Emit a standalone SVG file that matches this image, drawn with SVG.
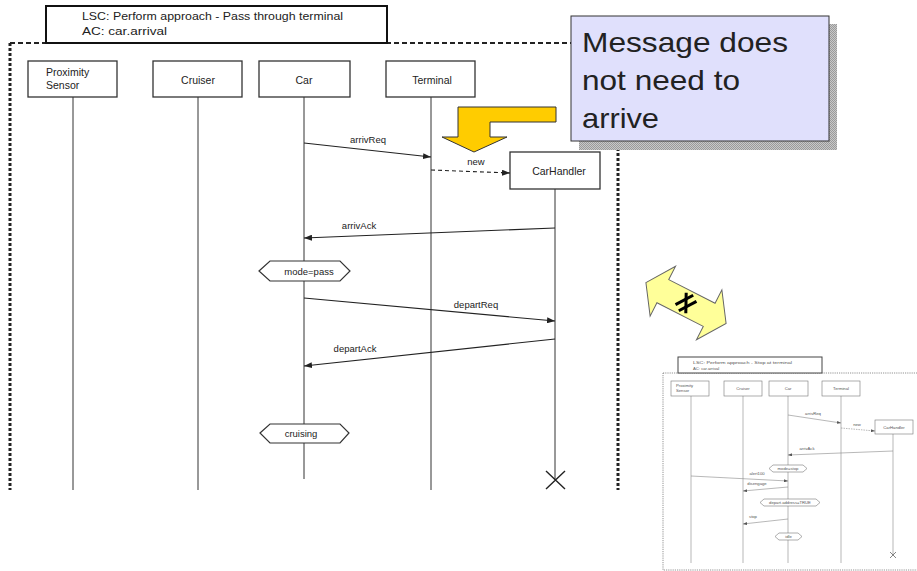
<svg xmlns="http://www.w3.org/2000/svg" width="917" height="571" viewBox="0 0 917 571">
<style>
.t{font-family:"Liberation Sans",Arial,sans-serif;fill:#222}
.lbl{font-size:9.5px}
.box{fill:#fff;stroke:#333;stroke-width:1.3}
.life{stroke:#333;stroke-width:1;fill:none}
.msg{stroke:#222;stroke-width:1.1;fill:none}
.hex{fill:#fff;stroke:#333;stroke-width:1.2}
.tb{fill:#fff;stroke:#777;stroke-width:0.6}
.tl{stroke:#888;stroke-width:0.6;fill:none}
.tt{font-family:"Liberation Sans",Arial,sans-serif;fill:#555;font-size:4.2px}
</style>
<defs>
<marker id="ah" viewBox="0 0 8 6" refX="8" refY="3" markerWidth="8" markerHeight="6" markerUnits="userSpaceOnUse" orient="auto"><path d="M0,0 L8,3 L0,6 z" fill="#222"/></marker>
<marker id="ahs" viewBox="0 0 8 6" refX="8" refY="3" markerWidth="4" markerHeight="3" markerUnits="userSpaceOnUse" orient="auto"><path d="M0,0 L8,3 L0,6 z" fill="#555"/></marker>
<pattern id="shd" width="2" height="2" patternUnits="userSpaceOnUse"><rect width="2" height="2" fill="#c8c8c8"/><rect width="1" height="1" fill="#9a9a9a"/><rect x="1" y="1" width="1" height="1" fill="#9a9a9a"/></pattern>
</defs>
<rect width="917" height="571" fill="#fff"/>

<!-- main LSC frame -->
<g id="frame">
<line x1="10" y1="43" x2="618" y2="43" stroke="#222" stroke-width="2" stroke-dasharray="5,3"/>
<line x1="10" y1="43" x2="10" y2="490" stroke="#222" stroke-width="3" stroke-dasharray="3,2"/>
<line x1="618" y1="43" x2="618" y2="490" stroke="#222" stroke-width="3" stroke-dasharray="3,2"/>
</g>
<g id="title">
<rect x="46" y="6" width="341" height="37" fill="#fff" stroke="#111" stroke-width="2"/>
<text class="t" x="82" y="20" font-size="11" textLength="261" lengthAdjust="spacingAndGlyphs">LSC: Perform approach - Pass through terminal</text>
<text class="t" x="82" y="35" font-size="11" textLength="85" lengthAdjust="spacingAndGlyphs">AC: car.arrival</text>
</g>

<g id="proximity">
<line class="life" x1="73" y1="97" x2="73" y2="490"/>
<rect class="box" x="28" y="61" width="89" height="36"/>
<text class="t" x="46" y="76" font-size="10.5">Proximity</text>
<text class="t" x="46" y="89" font-size="10.5">Sensor</text>
</g>
<g id="cruiser">
<line class="life" x1="198" y1="97" x2="198" y2="490"/>
<rect class="box" x="153" y="61" width="89" height="36"/>
<text class="t" x="198" y="84" font-size="10.5" text-anchor="middle">Cruiser</text>
</g>
<g id="car">
<line class="life" x1="304" y1="97" x2="304" y2="479"/>
<rect class="box" x="259" y="61" width="91" height="36"/>
<text class="t" x="304" y="84" font-size="10.5" text-anchor="middle">Car</text>
</g>
<g id="terminal">
<line class="life" x1="431" y1="97" x2="431" y2="490"/>
<rect class="box" x="386" y="61" width="89" height="36"/>
<text class="t" x="432" y="84" font-size="10.5" text-anchor="middle">Terminal</text>
</g>
<g id="carhandler">
<line class="life" x1="555" y1="189" x2="555" y2="480"/>
<rect class="box" x="510" y="152" width="90" height="37"/>
<text class="t" x="559" y="175" font-size="10.5" text-anchor="middle">CarHandler</text>
<path d="M546,471 L565,489 M565,471 L546,489" stroke="#222" stroke-width="1.4" fill="none"/>
</g>

<g id="connectors">
<line class="msg" x1="304" y1="143" x2="431" y2="157" marker-end="url(#ah)"/>
<text class="t lbl" x="368" y="143" text-anchor="middle">arrivReq</text>
<line class="msg" x1="431" y1="170" x2="510" y2="173" stroke-dasharray="4,3" marker-end="url(#ah)"/>
<text class="t lbl" x="476" y="165" text-anchor="middle">new</text>
<line class="msg" x1="555" y1="228" x2="304" y2="238" marker-end="url(#ah)"/>
<text class="t lbl" x="359" y="229" text-anchor="middle">arrivAck</text>
<line class="msg" x1="304" y1="298" x2="555" y2="321" marker-end="url(#ah)"/>
<text class="t lbl" x="476" y="308" text-anchor="middle">departReq</text>
<line class="msg" x1="555" y1="339" x2="304" y2="366" marker-end="url(#ah)"/>
<text class="t lbl" x="355" y="352" text-anchor="middle">departAck</text>
</g>

<g id="cond-mode">
<polygon class="hex" points="259,271 270,261 340,261 350,271 340,281 270,281"/>
<text class="t lbl" x="309" y="274.5" text-anchor="middle">mode=pass</text>
</g>
<g id="cond-cruising">
<polygon class="hex" points="260,433 270,424 340,424 349,433 340,443 270,443"/>
<text class="t lbl" x="301" y="436.5" text-anchor="middle">cruising</text>
</g>

<!-- callout -->
<g id="callout">
<rect x="579" y="24" width="258" height="126" fill="url(#shd)"/>
<rect x="571" y="16" width="258" height="125" fill="#E0E0FC" stroke="#333" stroke-width="1"/>
<text class="t" x="582" y="52" font-size="28" fill="#000" textLength="206" lengthAdjust="spacingAndGlyphs">Message does</text>
<text class="t" x="582" y="90" font-size="28" fill="#000" textLength="158" lengthAdjust="spacingAndGlyphs">not need to</text>
<text class="t" x="582" y="128" font-size="28" fill="#000" textLength="77" lengthAdjust="spacingAndGlyphs">arrive</text>
</g>
<g id="bent-arrow">
<polygon points="556,107 556,122 490,122 490,137 507,137 474,152 442,137 458,137 458,107" fill="#FFCC00" stroke="#333" stroke-width="1"/>
</g>

<g id="double-arrow" transform="translate(686,303) rotate(27)">
<polygon points="-45,0 -26,-28 -26,-13 26,-13 26,-28 45,0 26,28 26,13 -26,13 -26,28" fill="#FFFF99" stroke="#666" stroke-width="1"/>
<g transform="rotate(-55)" stroke="#000" stroke-width="3" stroke-linecap="butt">
<line x1="-10" y1="-3.5" x2="10" y2="-3.5"/>
<line x1="-10" y1="3.5" x2="10" y2="3.5"/>
<line x1="-5" y1="9" x2="5" y2="-9"/>
</g>
</g>

<!-- thumbnail LSC -->
<g id="thumb">
<rect x="663" y="373" width="260" height="197" fill="#fff" stroke="#777" stroke-width="0.8" stroke-dasharray="1.2,1"/>
<rect x="678" y="357" width="144" height="16" fill="#fff" stroke="#444" stroke-width="1"/>
<text class="tt" x="693" y="363.5" textLength="99" lengthAdjust="spacingAndGlyphs">LSC: Perform approach - Stop at terminal</text>
<text class="tt" x="693" y="369.5">AC: car.arrival</text>
<line class="tl" x1="691" y1="396" x2="691" y2="563"/>
<line class="tl" x1="743" y1="396" x2="743" y2="563"/>
<line class="tl" x1="788" y1="396" x2="788" y2="563"/>
<line class="tl" x1="841" y1="396" x2="841" y2="563"/>
<line class="tl" x1="893" y1="434" x2="893" y2="555"/>
<rect class="tb" x="671" y="381" width="38" height="15"/>
<text class="tt" x="676" y="387">Proximity</text>
<text class="tt" x="676" y="392">Sensor</text>
<rect class="tb" x="724" y="381" width="38" height="15"/>
<text class="tt" x="743" y="390" text-anchor="middle">Cruiser</text>
<rect class="tb" x="769" y="381" width="39" height="15"/>
<text class="tt" x="788" y="390" text-anchor="middle">Car</text>
<rect class="tb" x="822" y="381" width="38" height="15"/>
<text class="tt" x="841" y="390" text-anchor="middle">Terminal</text>
<rect class="tb" x="875" y="420" width="38" height="14"/>
<text class="tt" x="894" y="428.5" text-anchor="middle">CarHandler</text>
<line class="tl" x1="788" y1="415" x2="841" y2="423" marker-end="url(#ahs)"/>
<text class="tt" x="813" y="415" text-anchor="middle">arrivReq</text>
<line class="tl" x1="841" y1="428" x2="875" y2="431" stroke-dasharray="1.5,1" marker-end="url(#ahs)"/>
<text class="tt" x="857" y="426" text-anchor="middle">new</text>
<line class="tl" x1="893" y1="451" x2="788" y2="455" marker-end="url(#ahs)"/>
<text class="tt" x="807" y="450" text-anchor="middle">arrivAck</text>
<polygon class="tb" points="769,468.5 773,465 803,465 807,468.5 803,472 773,472"/>
<text class="tt" x="788" y="470" text-anchor="middle">mode=stop</text>
<line class="tl" x1="691" y1="476" x2="788" y2="481" marker-end="url(#ahs)"/>
<text class="tt" x="757" y="475" text-anchor="middle">alert100</text>
<line class="tl" x1="788" y1="487" x2="743" y2="491" marker-end="url(#ahs)"/>
<text class="tt" x="757" y="485" text-anchor="middle">disengage</text>
<polygon class="tb" points="760,502.5 764,499 816,499 820,502.5 816,506 764,506"/>
<text class="tt" x="790" y="504" text-anchor="middle">depart.address=TRUE</text>
<line class="tl" x1="788" y1="519" x2="743" y2="524" marker-end="url(#ahs)"/>
<text class="tt" x="753" y="518" text-anchor="middle">stop</text>
<polygon class="tb" points="775,536.5 779,533 798,533 802,536.5 798,540 779,540"/>
<text class="tt" x="788.5" y="538" text-anchor="middle">idle</text>
<path d="M890,552 L896,558 M896,552 L890,558" stroke="#666" stroke-width="0.8"/>
</g>
</svg>
